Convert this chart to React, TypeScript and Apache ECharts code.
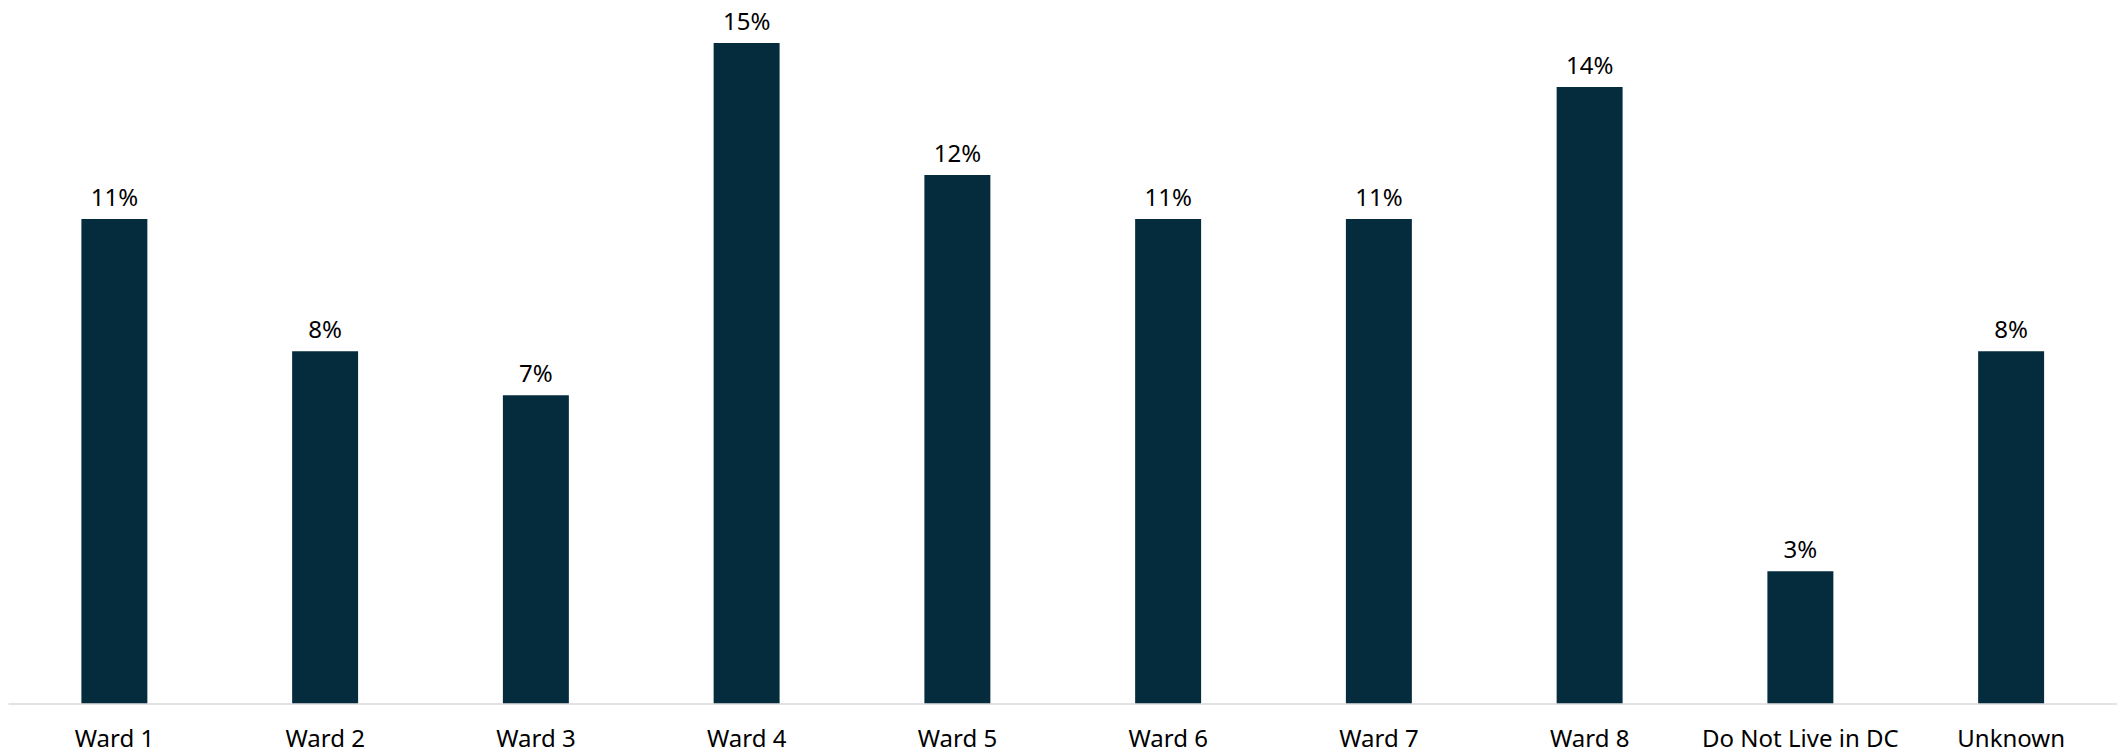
import React, { useEffect, useRef } from "react";
import * as echarts from "echarts";

// Share of respondents by place of residence
const categories = [
  "Ward 1",
  "Ward 2",
  "Ward 3",
  "Ward 4",
  "Ward 5",
  "Ward 6",
  "Ward 7",
  "Ward 8",
  "Do Not Live in DC",
  "Unknown",
];
const shares = [11, 8, 7, 15, 12, 11, 11, 14, 3, 8];

const FONT = "'Noto Sans', 'Open Sans', sans-serif";

export default function App() {
  const ref = useRef<HTMLDivElement>(null);

  useEffect(() => {
    if (!ref.current) return;
    const chart = echarts.init(ref.current, undefined, { renderer: "svg" });
    chart.setOption({
      animation: false,
      backgroundColor: "#ffffff",
      grid: { left: 9, right: 0.5, top: 43, bottom: 51.7, containLabel: false },
      xAxis: {
        type: "category",
        data: categories,
        axisLine: { show: true, lineStyle: { color: "#d9d9d9", width: 1.5 } },
        axisTick: { show: false },
        axisLabel: {
          color: "#000000",
          fontFamily: FONT,
          fontSize: 24,
          lineHeight: 22,
          margin: 23,
          interval: 0,
        },
      },
      yAxis: {
        type: "value",
        min: 0,
        max: 15,
        show: false,
        splitLine: { show: false },
      },
      series: [
        {
          type: "bar",
          data: shares,
          barCategoryGap: "68.7%",
          itemStyle: { color: "#042c3c" },
          label: {
            show: true,
            position: "top",
            distance: 12,
            color: "#000000",
            fontFamily: FONT,
            fontSize: 24,
            lineHeight: 22,
            formatter: (p: any) => `${p.value}%`,
          },
        },
      ],
    });
    return () => chart.dispose();
  }, []);

  return (
    <div
      ref={ref}
      style={{ position: "absolute", left: 0, top: 0, width: 2117, height: 755 }}
    />
  );
}
